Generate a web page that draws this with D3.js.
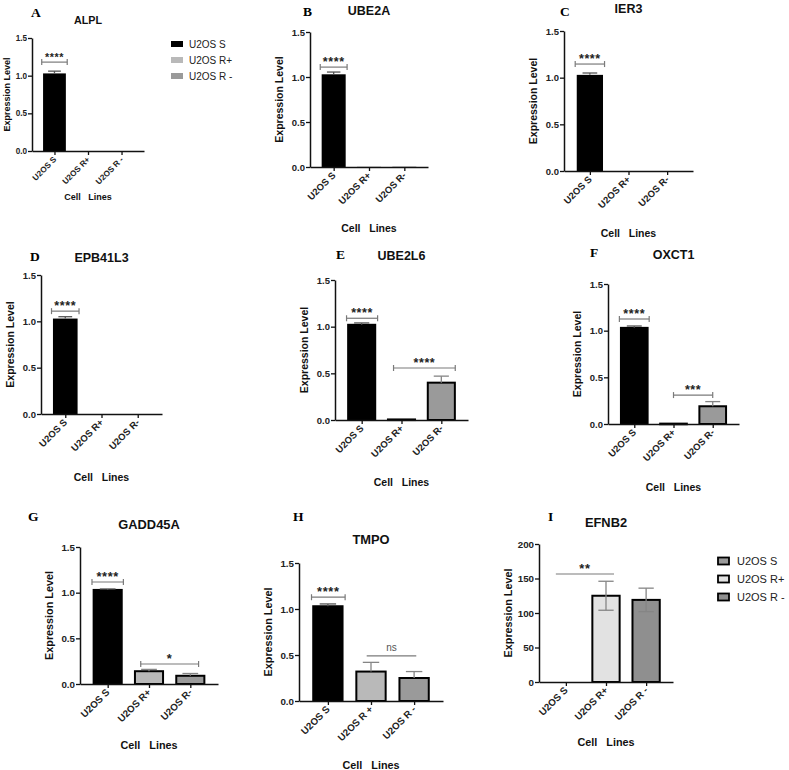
<!DOCTYPE html>
<html><head><meta charset="utf-8">
<script src="https://cdn.jsdelivr.net/npm/d3@7/dist/d3.min.js"></script>
<style>
body{margin:0;background:#fff}
svg{display:block}
text{font-family:"Liberation Sans",Arial,sans-serif}
text.letter{font-family:"Liberation Serif","Times New Roman",serif}
</style>
</head><body>
<svg id="chart" width="789" height="770"></svg>
<script>
// ---------------- data ----------------
const panelLetters = ["A","B","C","D","E","F","G","H","I"];
const genes = ["ALPL","UBE2A","IER3","EPB41L3","UBE2L6","OXCT1","GADD45A","TMPO","EFNB2"];
const categories = ["U2OS S","U2OS R+","U2OS R-"];
const tickLabelsA = ["U2OS S","U2OS R+","U2OS R -"];
const tickLabelsStd = ["U2OS S","U2OS R+","U2OS R-"];
const tickLabelsH = ["U2OS S","U2OS R +","U2OS R -"];
const tickLabelsI = ["U2OS S","U2OS R+","U2OS R -"];
const meanS      = [1.03, 1.03, 1.03, 1.03, 1.02, 1.03, 1.03, 1.03, 0];
const meanRplus  = [0,    0.005,0,    0,    0.006,0.004,0.14, 0.32, 125];
const meanRminus = [0,    0.005,0,    0,    0.40, 0.19, 0.09, 0.25, 119];
const errS       = [0.03, 0.025,0.02, 0.02, 0.02, 0.02, 0.01, 0.025,0];
const errRplus   = [0,    0,    0,    0,    0,    0,    0.02, 0.10, 21];
const errRminus  = [0,    0,    0,    0,    0.07, 0.05, 0.025,0.07, 17];
const yMaxes = [1.5,1.5,1.5,1.5,1.5,1.5,1.5,1.5,200];
const yTicksStd = [0,0.5,1.0,1.5];
const yTicksI = [0,50,100,150,200];
const legendLabels = ["U2OS S","U2OS R+","U2OS R -"];
// significance: panel, from index, to index, level, label, caps
const sigPanel = [0,1,2,3,4,4,5,5,6,6,7,7,8];
const sigFrom  = [-0.38,-0.38,-0.38,-0.38,-0.38,0.8,-0.38,1.0,-0.38,0.8,-0.38,0.9,-0.25];
const sigTo    = [0.38,0.38,0.38,0.38,0.4,2.35,0.38,2.0,0.38,2.2,0.4,2.05,1.2];
const sigLevel = [1.18,1.11,1.146,1.11,1.09,0.557,1.125,0.31,1.117,0.219,1.128,0.49,156.5];
const sigText  = ["****","****","****","****","****","****","****","***","****","*","****","ns","**"];
const sigCaps  = [1,1,1,1,1,1,1,1,1,1,1,0,0];

// ---------------- layout ----------------
const layout = [
 {x0:32, x1:144, yTop:38, yBot:151, lx:31, ly:17, ty:24, cy:200, lab:22.5, fs:0.86},
 {x0:310,x1:428, yTop:32, yBot:167, lx:303,ly:16, ty:15, cy:232, lab:27, fs:1},
 {x0:564,x1:693, yTop:31, yBot:171, lx:560,ly:16, ty:13, cy:237, lab:27, fs:1},
 {x0:41, x1:162, yTop:275,yBot:414, lx:30, ly:261,ty:262,cy:481, lab:27, fs:1},
 {x0:335,x1:468, yTop:280,yBot:420, lx:336,ly:259,ty:260,cy:486, lab:27, fs:1},
 {x0:608,x1:739, yTop:284,yBot:424, lx:590,ly:257,ty:259,cy:491, lab:27, fs:1},
 {x0:80, x1:218, yTop:547,yBot:684, lx:28, ly:521,ty:529,cy:749, lab:27, fs:1.03},
 {x0:299,x1:443, yTop:563,yBot:701, lx:293,ly:521,ty:544,cy:769, lab:27, fs:1.03},
 {x0:539,x1:673, yTop:544,yBot:682, lx:548,ly:521,ty:527,cy:746, lab:27, fs:1.03}
];
const fills = ["#000000","#b9b9b9","#9a9a9a"];
const fillsI = ["#9a9a9a","#e2e2e2","#8f8f8f"];

const svg = d3.select("#chart");

function drawPanel(i){
  const L = layout[i], f = L.fs;
  const g = svg.append("g");
  const y = d3.scaleLinear().domain([0, yMaxes[i]]).range([L.yBot, L.yTop]);
  const x = d3.scalePoint().domain([0,1,2]).range([L.x0, L.x1]).padding(0.67);
  const step = x.step();
  const bw = step*0.68;
  const vals = [meanS[i], meanRplus[i], meanRminus[i]];
  const errs = [errS[i], errRplus[i], errRminus[i]];
  const outlined = i >= 4;
  const cols = i === 8 ? fillsI : fills;
  const labels = i === 0 ? tickLabelsA : (i === 7 ? tickLabelsH : (i === 8 ? tickLabelsI : tickLabelsStd));

  // bars
  g.selectAll("rect.bar").data([0,1,2].filter(k => vals[k] > 0)).join("rect")
    .attr("class","bar")
    .attr("x", k => x(k) - bw/2)
    .attr("width", bw)
    .attr("y", k => y(vals[k]))
    .attr("height", k => Math.max(0.6, y(0) - y(vals[k])))
    .attr("fill", k => cols[k])
    .attr("stroke", outlined ? "#000" : "none")
    .attr("stroke-width", 2);

  // error bars
  [0,1,2].filter(k => errs[k] > 0).forEach(k => {
    const cx = x(k), cw = bw*0.28;
    const lo = i === 8 ? vals[k] - errs[k] : vals[k];
    const col = k === 0 ? "#555" : "#858585";
    g.append("line").attr("x1",cx).attr("x2",cx).attr("y1",y(lo)).attr("y2",y(vals[k]+errs[k]))
      .attr("stroke",col).attr("stroke-width",1.3);
    g.append("line").attr("x1",cx-cw).attr("x2",cx+cw).attr("y1",y(vals[k]+errs[k])).attr("y2",y(vals[k]+errs[k]))
      .attr("stroke",col).attr("stroke-width",1.3);
    if (i === 8) g.append("line").attr("x1",cx-cw).attr("x2",cx+cw).attr("y1",y(lo)).attr("y2",y(lo))
      .attr("stroke",col).attr("stroke-width",1.3);
  });

  // y axis
  const ya = g.append("g").attr("transform",`translate(${L.x0},0)`)
    .call(d3.axisLeft(y).tickValues(i === 8 ? yTicksI : yTicksStd)
      .tickFormat(i === 8 ? d3.format("d") : d3.format(".1f")).tickSize(4).tickSizeOuter(0));
  ya.select(".domain").attr("stroke","#111").attr("stroke-width",1.5);
  ya.selectAll(".tick line").attr("stroke","#111").attr("stroke-width",1.3);
  ya.selectAll(".tick text").attr("font-size",9.5*f).attr("font-weight","bold").attr("fill","#222").attr("x",-5);

  // x axis
  const xa = g.append("g").attr("transform",`translate(0,${L.yBot})`)
    .call(d3.axisBottom(x).tickFormat(k => labels[k]).tickSize(4).tickSizeOuter(0));
  xa.select(".domain").attr("stroke","#111").attr("stroke-width",1.5);
  xa.selectAll(".tick line").attr("stroke","#111").attr("stroke-width",1.3);
  xa.selectAll(".tick text").attr("font-size",9.5*f).attr("font-weight","bold").attr("fill","#222")
    .attr("text-anchor","end").attr("dy",null).attr("y",0)
    .attr("transform","translate(2,9) rotate(-45)");

  // titles
  g.append("text").attr("class","letter").attr("x",L.lx).attr("y",L.ly).text(panelLetters[i])
    .attr("font-weight","bold").attr("font-size",13.5);
  g.append("text").attr("x",(L.x0+L.x1)/2).attr("y",L.ty).attr("text-anchor","middle")
    .attr("font-weight","bold").attr("font-size",12.5*f).attr("fill","#111").text(genes[i]);
  g.append("text").attr("transform",`translate(${L.x0-L.lab},${(L.yTop+L.yBot)/2}) rotate(-90)`)
    .attr("text-anchor","middle").attr("font-weight","bold").attr("font-size",10.5*f).attr("fill","#111")
    .text("Expression Level");
  g.append("text").attr("x",(L.x0+L.x1)/2).attr("y",L.cy).attr("text-anchor","middle")
    .attr("font-weight","bold").attr("font-size",10.5*f).attr("fill","#111")
    .style("white-space","pre").text("Cell   Lines");

  // significance
  sigPanel.forEach((p, s) => {
    if (p !== i) return;
    const xa1 = x(0) + sigFrom[s]*step, xa2 = x(0) + sigTo[s]*step, yy = y(sigLevel[s]);
    g.append("line").attr("x1",xa1).attr("x2",xa2).attr("y1",yy).attr("y2",yy).attr("stroke","#7a7a7a").attr("stroke-width",1.2);
    if (sigCaps[s]) {
      [xa1,xa2].forEach(xx => g.append("line").attr("x1",xx).attr("x2",xx).attr("y1",yy-3).attr("y2",yy+3)
        .attr("stroke","#7a7a7a").attr("stroke-width",1.2));
    }
    const isNs = sigText[s] === "ns";
    g.append("text").attr("x",(xa1+xa2)/2).attr("y", isNs ? yy-5 : yy-1)
      .attr("text-anchor","middle").attr("font-size", isNs ? 10 : 12.5*f)
      .attr("font-weight", isNs ? "normal" : "bold").attr("fill", isNs ? "#555" : "#222")
      .attr("letter-spacing", isNs ? 0 : 0.6).text(sigText[s]);
  });
}
for (let i = 0; i < 9; i++) drawPanel(i);

// legend A
const legA = svg.append("g").attr("transform","translate(171,44)");
legendLabels.forEach((t,k) => {
  legA.append("rect").attr("x",0).attr("y",k*16-3).attr("width",12).attr("height",6).attr("fill",fills[k]);
  legA.append("text").attr("x",18).attr("y",k*16+3.5).attr("font-size",10).attr("fill","#222").text(t);
});
// legend I
const legI = svg.append("g").attr("transform","translate(718,561)");
legendLabels.forEach((t,k) => {
  legI.append("rect").attr("x",0).attr("y",k*18-3.5).attr("width",11).attr("height",7)
    .attr("fill",fillsI[k]).attr("stroke","#000").attr("stroke-width",1.8);
  legI.append("text").attr("x",19).attr("y",k*18+4).attr("font-size",11).attr("fill","#222").text(t);
});
</script>
</body></html>
